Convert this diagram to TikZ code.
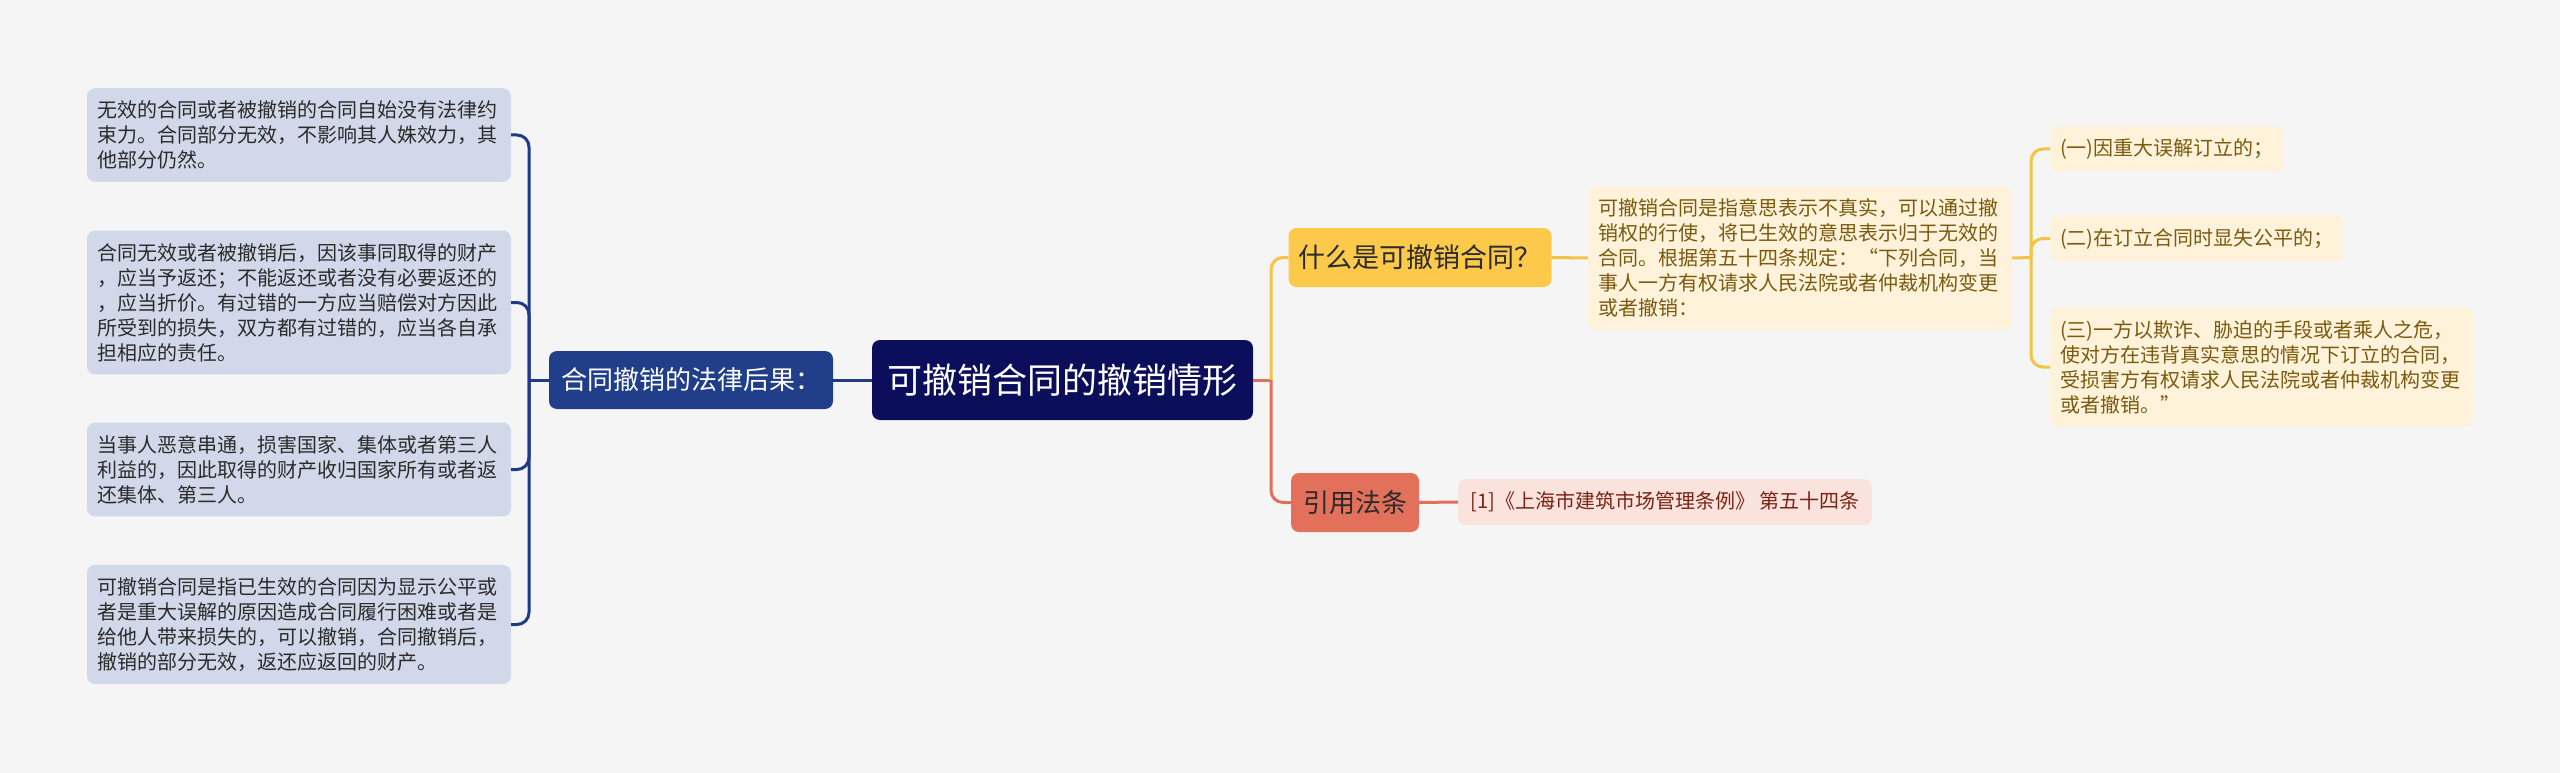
\documentclass[tikz,border=0pt]{standalone}
\usepackage{fontspec}
\setmainfont{Noto Sans CJK SC}
\usetikzlibrary{positioning}
\definecolor{bgcol}{HTML}{F5F5F5}
\definecolor{rootfill}{HTML}{0A0E5B}
\definecolor{navyfill}{HTML}{203E8A}
\definecolor{navyline}{HTML}{1F3A86}
\definecolor{leaffill}{HTML}{D1D8E9}
\definecolor{leaftext}{HTML}{2B2B2B}
\definecolor{goldfill}{HTML}{FCC94B}
\definecolor{goldline}{HTML}{F5C445}
\definecolor{creamfill}{HTML}{FEF3DA}
\definecolor{creamtext}{HTML}{7B5A0F}
\definecolor{redfill}{HTML}{E2705A}
\definecolor{redline}{HTML}{E0705A}
\definecolor{pinkfill}{HTML}{FBE3DD}
\definecolor{pinktext}{HTML}{7A2415}
\tikzset{
    box/.style={rounded corners=8pt, inner xsep=10pt, inner ysep=12.5pt},
    leafL/.style={box, fill=leaffill, text=leaftext, text width=404pt, align=left,
                  font=\fontsize{20pt}{25pt}\selectfont},
    leafR/.style={box, fill=creamfill, text=creamtext, align=left,
                  font=\fontsize{20pt}{25pt}\selectfont},
    rootbox/.style={box, fill=rootfill, text=white, minimum width=381pt, minimum height=80pt,
                    font=\fontsize{35pt}{40pt}\selectfont},
    mainbox/.style={box, minimum height=59pt, font=\fontsize{27pt}{32pt}\selectfont},
    navy/.style={draw=navyline, line width=3pt},
    gold/.style={draw=goldline, line width=3pt},
    red/.style={draw=redline, line width=3pt}
}
\begin{document}
\begin{tikzpicture}[x=1pt,y=-1pt]
    \fill[bgcol] (0,0) rectangle (2560,773);
    \useasboundingbox (0,0) rectangle (2560,773);

    \node[rootbox] (root) at (1062.5,380) {可撤销合同的撤销情形};
    \node[box, fill=navyfill, text=white, minimum width=284pt, minimum height=58pt,
          font=\fontsize{26pt}{30pt}\selectfont] (conseq) at (691,380) {合同撤销的法律后果：};

    \node[leafL] (effect1) at (299,135) {无效的合同或者被撤销的合同自始没有法律约\\束力。合同部分无效，不影响其人姝效力，其\\他部分仍然。};
    \node[leafL] (effect2) at (299,302.5) {合同无效或者被撤销后，因该事同取得的财产\\，应当予返还；不能返还或者没有必要返还的\\，应当折价。有过错的一方应当赔偿对方因此\\所受到的损失，双方都有过错的，应当各自承\\担相应的责任。};
    \node[leafL] (effect3) at (299,469.5) {当事人恶意串通，损害国家、集体或者第三人\\利益的，因此取得的财产收归国家所有或者返\\还集体、第三人。};
    \node[leafL] (effect4) at (299,624.5) {可撤销合同是指已生效的合同因为显示公平或\\者是重大误解的原因造成合同履行困难或者是\\给他人带来损失的，可以撤销，合同撤销后，\\撤销的部分无效，返还应返回的财产。};

    \node[mainbox, fill=goldfill, text=leaftext, minimum width=258pt] (what) at (1420,257.5) {什么是可撤销合同？};
    \node[leafR, text width=404pt] (whatText) at (1800,258) {可撤销合同是指意思表示不真实，可以通过撤\\销权的行使，将已生效的意思表示归于无效的\\合同。根据第五十四条规定：“下列合同，当\\事人一方有权请求人民法院或者仲裁机构变更\\或者撤销：};
    \node[leafR, anchor=west] (item1) at (2050,149) {(一)因重大误解订立的；};
    \node[leafR, anchor=west] (item2) at (2050,238.5) {(二)在订立合同时显失公平的；};
    \node[leafR, anchor=west, text width=403pt] (item3) at (2050,367) {(三)一方以欺诈、胁迫的手段或者乘人之危，\\使对方在违背真实意思的情况下订立的合同，\\受损害方有权请求人民法院或者仲裁机构变更\\或者撤销。”};

    \node[mainbox, fill=redfill, text=leaftext, minimum width=128pt, font=\fontsize{26pt}{32pt}\selectfont] (cite) at (1355,502.5) {引用法条};
    \node[box, fill=pinkfill, text=pinktext, minimum width=414pt, minimum height=46pt,
          font=\fontsize{20pt}{25pt}\selectfont] (citeText) at (1665,502) {[1]《上海市建筑市场管理条例》 第五十四条};

    \coordinate (jL) at (529,380);
    \coordinate (jR) at (1271,380);
    \coordinate (jY) at (2031,257.5);

    \draw[navy] (root.west) -- (conseq.east);
    \draw[navy] (conseq.west) -- (jL);
    \foreach \n in {effect1,effect2,effect3,effect4}
        \draw[navy, rounded corners=12pt] (jL) |- (\n.east);

    \draw[red] (root.east) -- (jR);
    \draw[gold, rounded corners=12pt] (jR) |- (what.west);
    \draw[red, rounded corners=12pt] (jR) |- (cite.west);
    \draw[gold] (what.east) -- (whatText.west);
    \draw[gold] (whatText.east) -- (jY);
    \foreach \n in {item1,item2,item3}
        \draw[gold, rounded corners=12pt] (jY) |- (\n.west);
    \draw[red] (cite.east) -- (citeText.west);
\end{tikzpicture}
\end{document}
